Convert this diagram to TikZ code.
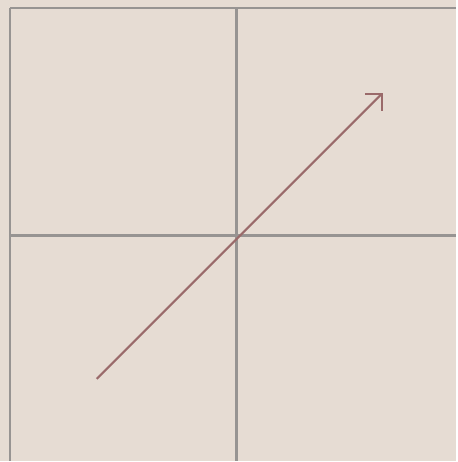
\documentclass[tikz,border=0pt]{standalone}
\usepackage{tikz}
\usetikzlibrary{arrows.meta}

\definecolor{paper}{HTML}{E6DCD3}
\definecolor{gridgray}{HTML}{979492}
\definecolor{vecred}{HTML}{9A6A6A}

\begin{document}
\begin{tikzpicture}[x=0.01cm, y=-0.01cm]
	% параметры
	\def\W{457} % ширина
	\def\H{462} % высота
	\def\S{227} % шаг сетки

	% фон
	\fill[paper] (0,0) rectangle (\W,\H);

	% сетка
	\foreach \x in {10, 237}
		\draw[gridgray, line width=0.75pt] (\x,8) -- (\x,\H);
	\foreach \y in {8, 236}
		\draw[gridgray, line width=0.75pt] (10,\y) -- (\W,\y);

	% вектор
	\coordinate (start) at (97,380);
	\coordinate (end) at (384,93);
	\draw[vecred, line width=0.6pt, -{Straight Barb[length=3.4pt, width=6.8pt]}] (start) -- (end);
\end{tikzpicture}
\end{document}
